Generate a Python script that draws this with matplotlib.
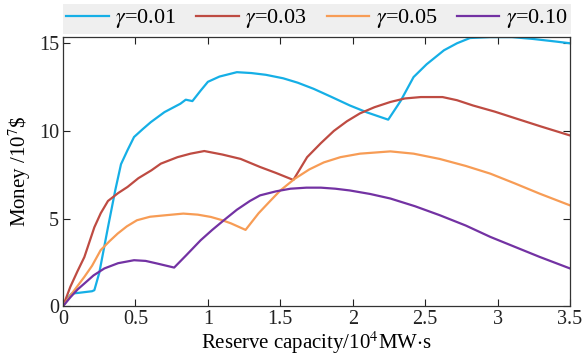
import matplotlib
matplotlib.use("Agg")
import matplotlib.pyplot as plt

plt.rcParams['font.family'] = ['Liberation Serif', 'DejaVu Serif']
plt.rcParams['mathtext.fontset'] = 'stix'

# gamma = 0.01
x1 = [0, 0.03, 0.06, 0.10, 0.15, 0.20, 0.216, 0.25, 0.31, 0.36, 0.40, 0.445, 0.49, 0.55,
      0.606, 0.70, 0.81, 0.847, 0.893, 0.95, 1.0, 1.08, 1.20, 1.30, 1.40, 1.52, 1.62,
      1.73, 1.85, 1.98, 2.10, 2.245, 2.33, 2.42, 2.51, 2.63, 2.72, 2.81, 2.95, 3.10,
      3.24, 3.40, 3.5]
y1 = [0, 0.45, 0.72, 0.75, 0.8, 0.85, 0.91, 1.9, 4.5, 6.6, 8.1, 8.9, 9.65, 10.1,
      10.5, 11.07, 11.55, 11.78, 11.7, 12.3, 12.8, 13.1, 13.35, 13.3, 13.2, 13.0, 12.75,
      12.4, 11.95, 11.45, 11.05, 10.64, 11.7, 13.07, 13.8, 14.6, 15.0, 15.3, 15.35, 15.35,
      15.25, 15.1, 15.0]

# gamma = 0.03
x2 = [0, 0.05, 0.10, 0.147, 0.216, 0.26, 0.31, 0.38, 0.445, 0.52, 0.61, 0.675, 0.79,
      0.88, 0.975, 1.10, 1.226, 1.36, 1.47, 1.59, 1.685, 1.78, 1.87, 1.96, 2.05, 2.15,
      2.26, 2.36, 2.47, 2.62, 2.72, 2.83, 2.98, 3.13, 3.30, 3.5]
y2 = [0, 1.1, 2.0, 2.8, 4.5, 5.3, 6.0, 6.45, 6.8, 7.3, 7.75, 8.13, 8.5,
      8.7, 8.85, 8.65, 8.4, 7.94, 7.6, 7.2, 8.5, 9.3, 10.0, 10.55, 11.0, 11.35,
      11.65, 11.85, 11.93, 11.93, 11.75, 11.45, 11.1, 10.7, 10.25, 9.74]

# gamma = 0.05
x3 = [0, 0.05, 0.10, 0.147, 0.20, 0.26, 0.32, 0.377, 0.44, 0.51, 0.60, 0.70, 0.83,
      0.93, 1.02, 1.10, 1.16, 1.26, 1.35, 1.43, 1.50, 1.60, 1.70, 1.80, 1.915, 2.05,
      2.26, 2.42, 2.60, 2.78, 2.95, 3.12, 3.29, 3.5]
y3 = [0, 0.6, 1.15, 1.67, 2.3, 3.2, 3.7, 4.14, 4.55, 4.9, 5.1, 5.18, 5.28,
      5.22, 5.09, 4.9, 4.72, 4.35, 5.3, 6.0, 6.6, 7.27, 7.8, 8.2, 8.5, 8.7,
      8.83, 8.7, 8.4, 8.0, 7.56, 7.0, 6.42, 5.75]

# gamma = 0.10
x4 = [0, 0.05, 0.10, 0.147, 0.21, 0.285, 0.38, 0.49, 0.57, 0.65, 0.767, 0.85, 0.95,
      1.03, 1.11, 1.20, 1.29, 1.36, 1.47, 1.57, 1.68, 1.78, 1.88, 1.98, 2.12, 2.26,
      2.43, 2.60, 2.78, 2.95, 3.12, 3.29, 3.5]
y4 = [0, 0.5, 0.95, 1.29, 1.75, 2.15, 2.45, 2.62, 2.58, 2.43, 2.2, 2.9, 3.76,
      4.35, 4.9, 5.5, 6.0, 6.32, 6.55, 6.7, 6.76, 6.76, 6.7, 6.6, 6.4, 6.14,
      5.7, 5.19, 4.6, 3.95, 3.38, 2.81, 2.15]

labels = [r'$\gamma$=0.01', r'$\gamma$=0.03', r'$\gamma$=0.05', r'$\gamma$=0.10']
colors = ['#15AFE6', '#BE4B42', '#F79C55', '#7332A3']
xticks = [0, 0.5, 1, 1.5, 2, 2.5, 3, 3.5]
xticklabels = ['0', '0.5', '1', '1.5', '2', '2.5', '3', '3.5']
yticks = [0, 5, 10, 15]

fig = plt.figure(figsize=(5.84, 3.64), dpi=100)
ax = fig.add_axes([0.108, 0.159, 0.868, 0.739])

for xs, ys, c, lab in zip([x1, x2, x3, x4], [y1, y2, y3, y4], colors, labels):
    ax.plot(xs, ys, color=c, lw=1.6, label=lab)

ax.set_xlim(0, 3.5)
ax.set_ylim(0, 15.35)
ax.set_xticks(xticks)
ax.set_xticklabels(xticklabels)
ax.set_yticks(yticks)
ax.tick_params(direction='in', top=True, right=True, length=5, width=0.8,
               labelsize=14.5, pad=3, colors='#222222')
for s in ax.spines.values():
    s.set_color('#333333')
    s.set_linewidth(0.9)

ax.set_xlabel('Reserve capacity/10$^4$MW$\\cdot$s', fontsize=15, labelpad=0)
ax.set_ylabel('Money /10$^7$\\$', fontsize=15, labelpad=4)

leg = fig.legend(loc='center', bbox_to_anchor=(0.108, 0.904, 0.870, 0.088),
                 mode='expand', ncol=4, fontsize=16, handlelength=1.9,
                 handletextpad=0.3, columnspacing=1.0, borderaxespad=0,
                 frameon=True, fancybox=False, borderpad=0.15)
leg.get_frame().set_facecolor('#EBEBEB')
leg.get_frame().set_edgecolor('none')

fig.savefig('out.png', dpi=100)
